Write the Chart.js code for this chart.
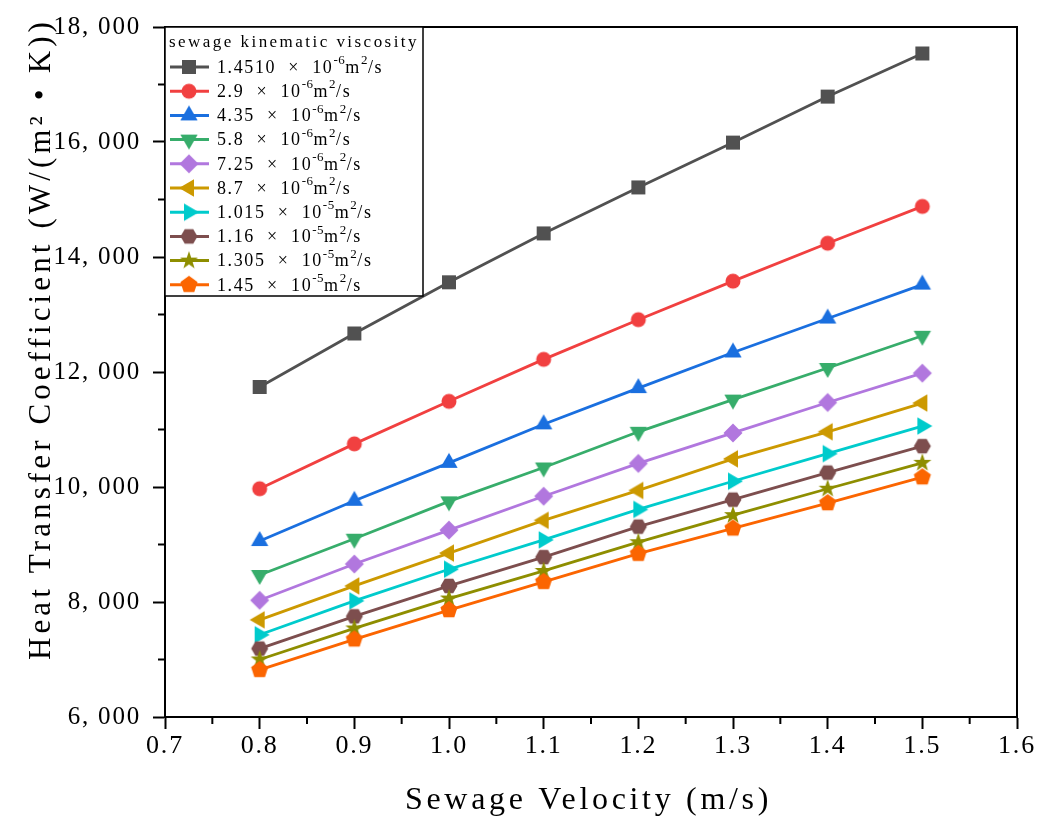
<!DOCTYPE html>
<html>
<head>
<meta charset="utf-8">
<script src="https://cdn.jsdelivr.net/npm/chart.js@4.4.1/dist/chart.umd.min.js"></script>
<style>
  html, body { margin: 0; padding: 0; background: #fff; }
</style>
</head>
<body>
<canvas id="chart" width="1049" height="829"></canvas>
<script>
// sewage velocity (m/s)
const velocity = [0.8, 0.9, 1.0, 1.1, 1.2, 1.3, 1.4, 1.5];

// heat transfer coefficient, one array per kinematic viscosity
const h1  = [11740, 12670, 13560, 14410, 15210, 15990, 16790, 17540];
const h2  = [9970, 10750, 11490, 12220, 12910, 13580, 14240, 14880];
const h3  = [9060, 9760, 10420, 11090, 11720, 12340, 12930, 13520];
const h4  = [8470, 9100, 9750, 10340, 10960, 11520, 12070, 12630];
const h5  = [8030, 8660, 9250, 9840, 10410, 10940, 11470, 11980];
const h6  = [7690, 8280, 8850, 9420, 9940, 10490, 10960, 11460];
const h7  = [7430, 8020, 8570, 9080, 9610, 10100, 10580, 11060];
const h8  = [7190, 7750, 8280, 8780, 9310, 9780, 10250, 10710];
const h9  = [7000, 7540, 8060, 8540, 9040, 9510, 9970, 10420];
const h10 = [6820, 7350, 7860, 8350, 8840, 9280, 9720, 10170];

const seriesNames = [
  "1.4510 × 10⁻⁶m²/s",
  "2.9 × 10⁻⁶m²/s",
  "4.35 × 10⁻⁶m²/s",
  "5.8 × 10⁻⁶m²/s",
  "7.25 × 10⁻⁶m²/s",
  "8.7 × 10⁻⁶m²/s",
  "1.015 × 10⁻⁵m²/s",
  "1.16 × 10⁻⁵m²/s",
  "1.305 × 10⁻⁵m²/s",
  "1.45 × 10⁻⁵m²/s"
];
const seriesValues = [h1, h2, h3, h4, h5, h6, h7, h8, h9, h10];

const xTicks = { min: 0.7, max: 1.6, step: 0.1 };
const yTicks = { min: 6000, max: 18000, step: 2000 };

const legendTitle = "sewage kinematic viscosity";
const xTitle = "Sewage Velocity (m/s)";
const yTitle = "Heat Transfer Coefficient (W/(m² • K))";

const colors = ["#515151", "#F14040", "#1A6FDF", "#37AD6B", "#B177DE",
                "#CC9900", "#00CBCC", "#7D4E4E", "#8E8E00", "#FB6501"];
const shapes = ["square", "circle", "up", "down", "diamond",
                "left", "right", "hexagon", "star", "pentagon"];

const SERIF = "'Liberation Serif', 'DejaVu Serif', serif";
const SUP = { "⁻": "-", "⁰": "0", "¹": "1", "²": "2", "³": "3", "⁴": "4",
              "⁵": "5", "⁶": "6", "⁷": "7", "⁸": "8", "⁹": "9" };

// marker images, shared by the plot and the legend
function polygon(g, cx, cy, r, n, startDeg){
  for (let i = 0; i < n; i++) {
    const a = (startDeg + i * 360 / n) * Math.PI / 180;
    const px = cx + r * Math.cos(a), py = cy + r * Math.sin(a);
    if (i === 0) g.moveTo(px, py); else g.lineTo(px, py);
  }
  g.closePath();
}

function makeMarker(shape, color){
  const size = 24, m = size / 2;
  const c = document.createElement("canvas");
  c.width = size; c.height = size;
  const g = c.getContext("2d");
  g.fillStyle = color;
  g.beginPath();
  switch (shape) {
    case "square":  g.rect(m - 7, m - 7, 14, 14); break;
    case "circle":  g.arc(m, m, 7.5, 0, Math.PI * 2); break;
    case "up":      polygon(g, m, m, 10, 3, -90); break;
    case "down":    polygon(g, m, m, 10, 3, 90); break;
    case "left":    polygon(g, m, m, 10, 3, 180); break;
    case "right":   polygon(g, m, m, 10, 3, 0); break;
    case "diamond": polygon(g, m, m, 9.5, 4, -90); break;
    case "hexagon": polygon(g, m, m, 8.5, 6, 0); break;
    case "pentagon": polygon(g, m, m, 9, 5, -90); break;
    case "star":
      for (let i = 0; i < 10; i++) {
        const r = i % 2 ? 3.8 : 9.5;
        const a = (-90 + i * 36) * Math.PI / 180;
        const px = m + r * Math.cos(a), py = m + r * Math.sin(a);
        if (i === 0) g.moveTo(px, py); else g.lineTo(px, py);
      }
      g.closePath();
      break;
  }
  g.fill();
  return c;
}

const markers = shapes.map((s, i) => makeMarker(s, colors[i]));

const datasets = seriesValues.map((vals, i) => ({
  label: seriesNames[i],
  data: velocity.map((v, k) => ({ x: v, y: vals[k] })),
  borderColor: colors[i],
  backgroundColor: colors[i],
  borderWidth: 2.8,
  pointStyle: markers[i],
  pointRadius: 8,
  pointHoverRadius: 8,
  order: seriesValues.length - i,
  tension: 0
}));

// text stretched to a given width, the way the original's wide font sits
function spacedText(ctx, text, x, y, width){
  ctx.letterSpacing = "0px";
  const w = ctx.measureText(text).width;
  const n = [...text].length;
  ctx.letterSpacing = Math.max(0, (width - w) / n) + "px";
  ctx.fillText(text, x, y);
  ctx.letterSpacing = "0px";
}

// label with superscripts drawn as raised small text
function richLabel(ctx, text, x, y, size, spacing){
  let cx = x;
  for (const ch of text) {
    const sup = SUP[ch];
    ctx.font = (sup ? Math.round(size * 0.7) : size) + "px " + SERIF;
    const t = sup || ch;
    ctx.fillText(t, cx, sup ? y - size * 0.4 : y);
    cx += ctx.measureText(t).width + (sup ? 0.5 : spacing);
  }
}

const decorations = {
  id: "decorations",
  beforeDraw(chart){
    chart.ctx.letterSpacing = "1.8px";
  },
  afterDraw(chart){
    const { ctx, chartArea: a, scales: { x, y } } = chart;
    ctx.save();
    ctx.letterSpacing = "0px";

    // minor ticks and the frame
    ctx.strokeStyle = "#000";
    ctx.lineWidth = 2;
    ctx.beginPath();
    for (let i = 0; i < x.ticks.length - 1; i++) {
      const px = x.getPixelForValue((x.ticks[i].value + x.ticks[i + 1].value) / 2);
      ctx.moveTo(px, a.bottom); ctx.lineTo(px, a.bottom + 7);
    }
    for (let i = 0; i < y.ticks.length - 1; i++) {
      const py = y.getPixelForValue((y.ticks[i].value + y.ticks[i + 1].value) / 2);
      ctx.moveTo(a.left, py); ctx.lineTo(a.left - 7, py);
    }
    ctx.stroke();
    ctx.strokeRect(a.left, a.top, a.right - a.left, a.bottom - a.top);

    // axis titles
    ctx.fillStyle = "#000";
    ctx.textAlign = "left";
    ctx.textBaseline = "middle";
    ctx.font = "32px " + SERIF;
    spacedText(ctx, xTitle, 405, 801, 367);
    ctx.save();
    ctx.translate(42, 660);
    ctx.rotate(-Math.PI / 2);
    ctx.font = "31px " + SERIF;
    spacedText(ctx, yTitle, 0, 0, 642);
    ctx.restore();

    // legend box
    const lx = a.left, ly = a.top, lw = 258, lh = 269;
    ctx.fillStyle = "#fff";
    ctx.fillRect(lx, ly, lw, lh);
    ctx.lineWidth = 1.5;
    ctx.strokeRect(lx, ly, lw, lh);
    ctx.fillStyle = "#000";
    ctx.font = "17px " + SERIF;
    spacedText(ctx, legendTitle, lx + 4, ly + 16, 250);
    chart.data.datasets.forEach((ds, i) => {
      const cy = ly + 40 + i * 24.2;
      ctx.strokeStyle = ds.borderColor;
      ctx.lineWidth = 3;
      ctx.beginPath();
      ctx.moveTo(lx + 5, cy); ctx.lineTo(lx + 44, cy);
      ctx.stroke();
      const mk = ds.pointStyle;
      ctx.drawImage(mk, lx + 24 - mk.width / 2, cy - mk.height / 2);
      ctx.fillStyle = "#000";
      richLabel(ctx, ds.label.replace(" × ", "  ×  "), lx + 52, cy + 1, 18, 1.6);
    });
    ctx.restore();
  }
};

new Chart(document.getElementById("chart"), {
  type: "line",
  data: { datasets },
  plugins: [decorations],
  options: {
    responsive: false,
    animation: false,
    devicePixelRatio: 1,
    layout: { padding: { left: 0, top: 26, right: 32, bottom: 0 } },
    plugins: { legend: { display: false }, tooltip: { enabled: false } },
    scales: {
      x: {
        type: "linear",
        min: xTicks.min, max: xTicks.max,
        afterFit: s => { s.height = 112; },
        border: { display: true, color: "#000", width: 2 },
        grid: { display: true, drawOnChartArea: false, drawTicks: true,
                tickLength: 12, tickWidth: 2, tickColor: "#000" },
        ticks: {
          stepSize: xTicks.step, padding: 2, color: "#000",
          font: { family: SERIF, size: 26 },
          maxRotation: 0, autoSkip: false,
          callback: v => Number(v).toFixed(1)
        }
      },
      y: {
        min: yTicks.min, max: yTicks.max,
        afterFit: s => { s.width = 165; },
        border: { display: true, color: "#000", width: 2 },
        grid: { display: true, drawOnChartArea: false, drawTicks: true,
                tickLength: 12, tickWidth: 2, tickColor: "#000" },
        ticks: {
          stepSize: yTicks.step, padding: 12, color: "#000",
          font: { family: SERIF, size: 25 },
          callback: v => Number(v).toLocaleString("en-US").replace(",", ", ")
        }
      }
    }
  }
});
</script>
</body>
</html>
